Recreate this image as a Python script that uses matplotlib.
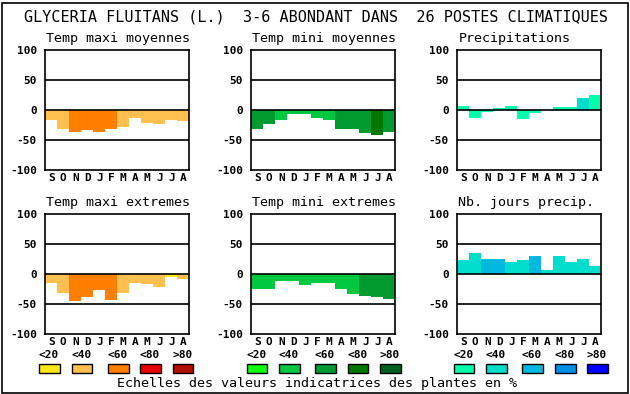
import matplotlib
matplotlib.use("Agg")
import matplotlib.pyplot as plt
from matplotlib.patches import Rectangle

# months (Sept -> Aug)
months = ["S", "O", "N", "D", "J", "F", "M", "A", "M", "J", "J", "A"]

# values (% deviation) and colour class (0..4 = <20 .. >80)
tmax_moy = [-16, -31, -36, -33, -36, -31, -28, -13, -21, -23, -17, -18]
tmax_moy_cls = [1, 1, 2, 2, 2, 2, 1, 1, 1, 1, 1, 1]

tmin_moy = [-31, -23, -16, -6, -6, -13, -16, -31, -31, -38, -41, -36]
tmin_moy_cls = [2, 2, 1, 1, 1, 1, 1, 2, 2, 2, 3, 2]

precip = [7, -13, -3, 4, 7, -15, -4, 0, 6, 6, 21, 26]
precip_cls = [0, 0, 0, 0, 0, 0, 0, 0, 0, 0, 1, 0]

tmax_ext = [-14, -32, -44, -38, -27, -43, -32, -15, -17, -22, -4, -8]
tmax_ext_cls = [1, 1, 2, 2, 2, 2, 1, 1, 1, 1, 0, 1]

tmin_ext = [-25, -25, -12, -12, -18, -15, -15, -25, -33, -37, -38, -42]
tmin_ext_cls = [1, 1, 1, 1, 1, 1, 1, 1, 1, 2, 2, 2]

jours_precip = [23, 35, 25, 25, 20, 23, 30, 7, 30, 20, 25, 13]
jours_precip_cls = [1, 1, 2, 2, 1, 1, 2, 1, 1, 1, 1, 1]

scale_labels = ["<20", "<40", "<60", "<80", ">80"]
temp_max_colors = ["#FFE818", "#FFC050", "#FF8000", "#E80000", "#B01000"]
temp_min_colors = ["#10FF10", "#00C840", "#009A30", "#007800", "#006020"]
precip_colors = ["#00FFAA", "#00DDCC", "#00B8E0", "#0090E8", "#0000FF"]

title = "GLYCERIA FLUITANS (L.)  3-6 ABONDANT DANS  26 POSTES CLIMATIQUES"
footer = "Echelles des valeurs indicatrices des plantes en %"

W, H = 630, 394
mono = "DejaVu Sans Mono"
fig = plt.figure(figsize=(W / 100, H / 100), dpi=100)
fig.patch.set_facecolor("white")

def px(x, y, w, h):
    return [x / W, 1 - (y + h) / H, w / W, h / H]

panels = [
    ("Temp maxi moyennes", tmax_moy, tmax_moy_cls, temp_max_colors, 45.3, 50.3),
    ("Temp mini moyennes", tmin_moy, tmin_moy_cls, temp_min_colors, 251.3, 50.3),
    ("Precipitations", precip, precip_cls, precip_colors, 457.3, 50.3),
    ("Temp maxi extremes", tmax_ext, tmax_ext_cls, temp_max_colors, 45.3, 214.3),
    ("Temp mini extremes", tmin_ext, tmin_ext_cls, temp_min_colors, 251.3, 214.3),
    ("Nb. jours precip.", jours_precip, jours_precip_cls, precip_colors, 457.3, 214.3),
]

for name, vals, cls, pal, x0, y0 in panels:
    ax = fig.add_axes(px(x0, y0, 144, 120))
    ax.bar(range(12), vals, width=1.0, color=[pal[c] for c in cls], linewidth=0)
    for yv in (-50, 0, 50):
        ax.axhline(yv, color="black", lw=1.2)
    ax.set_xlim(-0.5, 11.5)
    ax.set_ylim(-100, 100)
    ax.set_xticks(range(12))
    ax.set_xticklabels(months, fontfamily=mono, fontweight="bold", fontsize=8)
    ax.set_yticks([-100, -50, 0, 50, 100])
    ax.set_yticklabels(["-100", "-50", "0", "50", "100"], fontfamily=mono,
                       fontweight="bold", fontsize=8)
    ax.tick_params(length=0, pad=2, axis="x")
    ax.tick_params(length=0, pad=6, axis="y")
    for s in ax.spines.values():
        s.set_linewidth(1.2)
    fig.text((x0 + 1) / W, 1 - (y0 - 12) / H, name, fontfamily=mono,
             fontsize=9.6, ha="left", va="center")

fig.text(316 / W, 1 - 17 / H, title, fontfamily=mono, fontsize=10.9,
         ha="center", va="center")

# legend scales
groups = [
    (temp_max_colors, [39, 71.5, 108, 140, 172.5]),
    (temp_min_colors, [246.5, 279, 315, 347.5, 380]),
    (precip_colors, [453.7, 486, 522, 555, 587]),
]
for pal, xs in groups:
    for lab, col, x in zip(scale_labels, pal, xs):
        fig.patches.append(Rectangle((x / W, 1 - 373 / H), 20.5 / W, 9.5 / H,
                                     transform=fig.transFigure, facecolor=col,
                                     edgecolor="black", lw=1.0))
        fig.text((x + 10) / W, 1 - 355 / H, lab, fontfamily=mono,
                 fontweight="bold", fontsize=8, ha="center", va="center")

fig.text(317 / W, 1 - 383 / H, footer, fontfamily=mono, fontsize=9.6,
         ha="center", va="center")

fig.patches.append(Rectangle((1.5 / W, 1.5 / H), (W - 4) / W, (H - 4) / H,
                             transform=fig.transFigure, fill=False,
                             edgecolor="black", lw=1.2))

fig.savefig("out.png", dpi=100)
